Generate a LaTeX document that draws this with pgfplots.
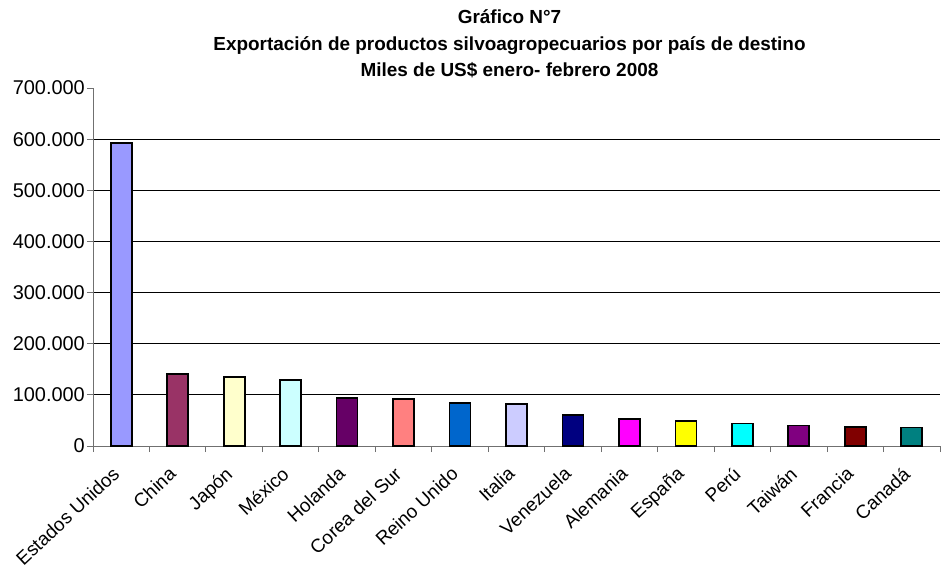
\documentclass[border=0pt]{standalone}
\usepackage{pgfplots}
\pgfplotsset{compat=1.18}
\usepackage{fontspec}
\setmainfont{Liberation Sans}
\definecolor{c1}{HTML}{9999FF}
\definecolor{c2}{HTML}{993366}
\definecolor{c3}{HTML}{FFFFCC}
\definecolor{c4}{HTML}{CCFFFF}
\definecolor{c5}{HTML}{660066}
\definecolor{c6}{HTML}{FF8080}
\definecolor{c7}{HTML}{0066CC}
\definecolor{c8}{HTML}{CCCCFF}
\definecolor{c9}{HTML}{000080}
\definecolor{c10}{HTML}{FF00FF}
\definecolor{c11}{HTML}{FFFF00}
\definecolor{c12}{HTML}{00FFFF}
\definecolor{c13}{HTML}{800080}
\definecolor{c14}{HTML}{800000}
\definecolor{c15}{HTML}{008080}
\definecolor{axgray}{HTML}{707070}
\begin{document}
\begin{tikzpicture}
\useasboundingbox (-93bp,-126bp) rectangle (848bp,446bp);
\begin{axis}[
  at={(0,0)}, anchor=south west,
  scale only axis,
  width=847bp, height=358bp,
  ybar, bar width=21bp, bar shift=0pt,
  xmin=-0.5, xmax=14.5,
  ymin=0, ymax=700000,
  axis lines*=left,
  axis line style={axgray, line width=1pt},
  xtick={0,...,14},
  xticklabels={Estados Unidos,China,Japón,México,Holanda,Corea del Sur,Reino Unido,Italia,Venezuela,Alemania,España,Perú,Taiwán,Francia,Canadá},
  x tick label style={xshift=-10bp, yshift=-12bp, rotate=43, anchor=north east, font=\fontsize{19}{19}\selectfont, inner sep=1bp},
  major x tick style={draw=none},
  minor xtick={-0.5,0.5,...,14.5},
  minor tick length=6bp,
  minor x tick style={axgray, line width=1pt},
  tick align=outside,
  ytick={0,100000,...,600000},
  extra y ticks={700000},
  extra y tick style={grid=none},
  ymajorgrids,
  major grid style={black, line width=0.9pt},
  major tick length=6bp,
  y tick style={axgray, line width=1pt},
  scaled y ticks=false,
  yticklabel style={font=\fontsize{20}{20}\selectfont, inner sep=2bp},
  yticklabel={\pgfmathprintnumber[fixed,1000 sep={.},assume math mode=true]{\tick}},
  title={Gráfico N°7\\Exportación de productos silvoagropecuarios por país de destino\\Miles de US\$ enero- febrero 2008},
  title style={align=center, font=\bfseries\fontsize{19}{26.5}\selectfont, at={(0.5,1)}, anchor=south, inner sep=0pt, yshift=4bp, xshift=-7bp},
  barst/.style={draw=black, line width=1.7pt},
]
\addplot[barst, fill=c1] coordinates {(0,593000)};
\addplot[barst, fill=c2] coordinates {(1,141000)};
\addplot[barst, fill=c3] coordinates {(2,135000)};
\addplot[barst, fill=c4] coordinates {(3,129000)};
\addplot[barst, fill=c5] coordinates {(4,93500)};
\addplot[barst, fill=c6] coordinates {(5,92000)};
\addplot[barst, fill=c7] coordinates {(6,84000)};
\addplot[barst, fill=c8] coordinates {(7,81500)};
\addplot[barst, fill=c9] coordinates {(8,60000)};
\addplot[barst, fill=c10] coordinates {(9,52800)};
\addplot[barst, fill=c11] coordinates {(10,49000)};
\addplot[barst, fill=c12] coordinates {(11,43700)};
\addplot[barst, fill=c13] coordinates {(12,39800)};
\addplot[barst, fill=c14] coordinates {(13,36500)};
\addplot[barst, fill=c15] coordinates {(14,36000)};
\end{axis}
\end{tikzpicture}
\end{document}
